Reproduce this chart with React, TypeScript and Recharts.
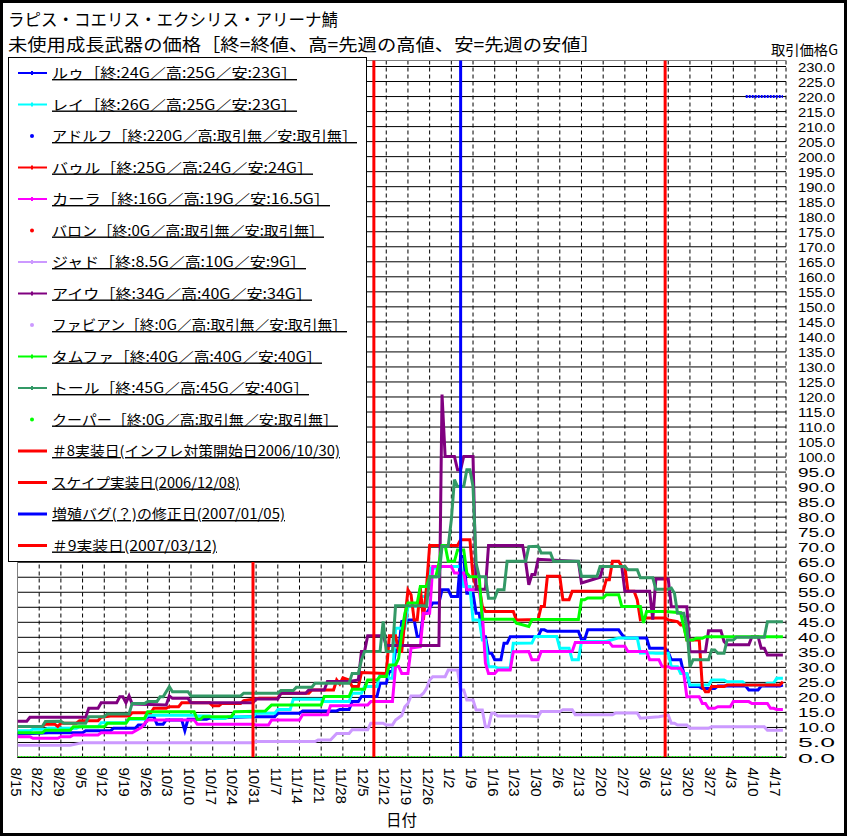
import { LineChart, Line, XAxis, YAxis, CartesianGrid, ReferenceLine } from "recharts";

// x = days since 8/15 (2006), y = price in G
const DATE_LABELS = [
  "8/15", "8/22", "8/29", "9/5", "9/12", "9/19", "9/26", "10/3", "10/10", "10/17", "10/24", "10/31",
  "11/7", "11/14", "11/21", "11/28", "12/5", "12/12", "12/19", "12/26", "1/2", "1/9", "1/16", "1/23",
  "1/30", "2/6", "2/13", "2/20", "2/27", "3/6", "3/13", "3/20", "3/27", "4/3", "4/10", "4/17",
];
const X_TICKS = DATE_LABELS.map((_, i) => i * 7);
const Y_TICKS = Array.from({ length: 47 }, (_, i) => i * 5);
const Y_MINOR = Array.from({ length: 231 }, (_, i) => i);

const LU = [[0,7.8],[5,8],[10,8.2],[21,8.2],[22,8.9],[30,8.9],[31,9.7],[38,9.7],[39,10.8],[41,10.8],[42,13.6],[44,13.6],[45,11.1],[47,11.1],[48,12.5],[53,12.5],[54,8.9],[55,12.7],[61,12.7],[62,13.1],[75,13.6],[83,13.6],[84,14.7],[91,14.7],[92,15.5],[103,15.5],[104,16],[107,16],[108,18.6],[110,18.6],[111,20.3],[116,20.3],[117,24.7],[119,24.7],[120,28.6],[121,28.6],[122,35.8],[123,35.8],[124,45.3],[126,45.8],[128,45.8],[129,40.3],[130,40.3],[131,48],[132,48],[134,51.4],[136,51.4],[137,55.8],[139,55.8],[140,53.6],[142,53.6],[143,66.9],[144,66.9],[145,54.7],[147,54.7],[148,48],[149,48],[150,40.2],[151,40.2],[152,34.7],[153,34.7],[154,32.5],[156,32.5],[157,38],[158,38],[159,40.2],[168,40.3],[169,42.5],[170,42.5],[171,42],[181,42],[182,39.2],[183,39.2],[184,42.5],[194,42.5],[195,41],[196,39.8],[203,39.8],[204,36.4],[209,36.4],[210,35],[211,32.5],[214,32.5],[215,28],[216,28],[217,23.6],[220,23.6],[221,23],[225,23],[226,23.8],[235,23.8],[236,22.5],[239,22.5],[240,23.8],[246,23.8],[247,24.1]];
const REI = [[0,8.9],[4,8.9],[5,9.4],[9,9.4],[10,9.7],[19,9.7],[20,10.2],[26,10.2],[27,11.6],[35,11.6],[36,12.7],[41,12.7],[42,14.1],[57,14.1],[58,13.8],[62,13.8],[63,13],[67,13],[68,13.6],[76,13.6],[77,14.7],[83,14.7],[84,16],[88,16],[89,19.4],[98,19.4],[99,18.6],[107,18.6],[108,21.4],[111,21.4],[112,23.6],[116,23.6],[117,28],[119,28],[120,26.4],[121,26.4],[122,43],[125,43],[126,50.3],[129,50.3],[130,53.6],[132,53.6],[133,63],[136,63],[137,63.6],[143,63.6],[144,56.9],[146,56.9],[147,45.8],[149,45.8],[150,39.1],[151,39.1],[152,30.2],[154,30.2],[155,29.7],[159,29.7],[160,38],[166,38.1],[167,40.3],[174,40.3],[175,36.4],[178,36.4],[179,32.5],[181,32.5],[182,38.6],[190,38.6],[194,39.8],[200,39.8],[201,34.8],[205,34.8],[206,34.7],[210,34.7],[211,30.2],[213,30.2],[214,28],[216,28],[217,24.1],[223,24.1],[224,25.8],[228,25.8],[229,25.2],[234,25.2],[235,24.1],[241,24.1],[242,24.7],[244,24.7],[245,26.4],[247,26.4]];
const ADOLF = [[235,220],[247,220]];
const BAUL = [[0,10.3],[8,10.3],[9,11.1],[12,11.1],[13,10.3],[14,11.4],[19,11.4],[20,12.2],[26,12.2],[27,13.4],[30,13.8],[36,13.8],[37,14.9],[43,14.9],[44,16.4],[48,16.4],[49,16.9],[52,16.9],[53,18.2],[62,18.2],[63,17.2],[65,17.2],[66,18],[72,18],[73,18.9],[78,19.7],[84,19.7],[85,21.4],[94,21.4],[95,22.5],[102,22.5],[103,25.8],[104,24.5],[105,26.5],[107,25.8],[108,23.6],[110,23.6],[111,28.3],[119,28],[120,40.5],[122,40.5],[123,35.3],[124,35.3],[125,45.8],[126,55.8],[127,54.2],[128,45.8],[129,45.8],[130,56.4],[131,45.8],[132,56.9],[133,70.6],[142,70.6],[143,72.5],[146,72.5],[147,60.2],[148,56.9],[149,56.9],[150,50.3],[151,48.6],[160,48.6],[161,45.8],[168,45.9],[169,50.3],[170,50.3],[171,60.3],[175,60.3],[176,52.5],[178,52.5],[179,55.3],[189,55.3],[190,59.2],[191,59.2],[192,65.3],[194,65.3],[195,63.6],[196,63.6],[197,55.3],[199,55.3],[200,52.5],[201,45.9],[203,46.4],[209,46.4],[210,45.8],[213,45.2],[214,44.1],[215,44.1],[216,39.1],[220,39.1],[221,23.6],[222,21.9],[223,21.9],[224,23.6],[228,23.6],[229,24.1],[246,24.1],[247,25.2]];
const KARA = [[0,6.9],[4,6.9],[5,6.4],[13,6.4],[14,6.9],[17,6.9],[18,7.5],[26,7.5],[27,8.2],[37,8.2],[40,10],[42,12.5],[57,12.5],[58,11.1],[76,11.1],[77,10.8],[81,10.8],[82,12.5],[91,12.5],[92,14.2],[100,14.2],[101,17.2],[107,17.2],[108,17.5],[113,17.5],[114,18.6],[121,18.6],[122,30.3],[123,30.3],[124,28],[126,28],[127,36.4],[130,36.9],[131,48],[133,48],[134,63.6],[140,63.6],[141,61.4],[144,61.4],[145,55.8],[149,55.8],[150,48],[151,31.4],[152,28],[154,28],[155,29.1],[159,29.1],[160,35.2],[165,35.3],[166,32.5],[168,32.5],[169,35.3],[179,35.3],[180,38.3],[191,38.3],[192,37],[196,37],[197,35.3],[203,35.3],[204,32.5],[207,32.5],[208,30.3],[210,30.2],[211,29.7],[214,29.7],[215,28],[216,20.2],[220,20.2],[221,18],[222,18],[223,16.4],[225,16.4],[226,16.9],[230,16.9],[231,18.6],[236,18.6],[237,18],[242,18],[243,16.4],[244,16.4],[245,16],[247,16]];
const BARON = [[0,0],[247,0]];
const JAD = [[0,4.1],[17,4.1],[20,4.7],[21,4.9],[76,4.9],[77,5.3],[96,5.3],[97,5.8],[101,5.8],[103,8],[107,8],[108,9.2],[113,9.2],[114,11.4],[118,11.4],[119,10.8],[121,10.8],[122,12.5],[124,14],[125,16.9],[126,18],[127,20.5],[130,20.5],[131,21.4],[132,23],[133,25.8],[134,26.9],[138,26.9],[139,29.1],[142,29.1],[143,22.5],[144,22.5],[145,19.1],[147,19.1],[148,15.8],[150,15.8],[151,10.2],[152,10.2],[153,14.7],[154,14.7],[155,13.8],[165,13.8],[168,13.6],[169,15.3],[175,15.3],[176,15.9],[179,15.9],[180,14.2],[192,14.2],[193,14.8],[200,14.8],[201,13.1],[207,13.6],[210,14.1],[211,11.4],[212,11.4],[213,10.8],[216,10.8],[217,9.7],[223,9.7],[224,10.2],[241,10.2],[242,9.1],[247,9.1]];
const AIU = [[0,12.1],[3,12.1],[4,13.4],[22,13.4],[23,16.4],[26,16.4],[27,18.2],[32,18.2],[33,20.2],[34,20.2],[35,18.2],[36,20.5],[37,17.8],[48,17.5],[49,20.5],[50,19.7],[55,19.7],[56,18.2],[76,18.2],[77,19.5],[84,19.5],[85,21.4],[93,21.4],[94,22.5],[99,22.5],[100,25.3],[107,25.3],[110,25.8],[111,35.3],[112,35.3],[113,40.5],[118,40.5],[119,37.3],[136,37.3],[137,120.8],[138,100.2],[141,100.2],[142,95.8],[143,95.8],[144,100.2],[147,100.2],[148,56],[151,56],[152,70.6],[163,70.6],[164,65],[165,57.5],[166,60.9],[167,60.9],[168,66],[181,65.3],[182,58.1],[188,60],[189,63.6],[195,63.6],[196,55.3],[204,55.3],[205,45.9],[206,59.4],[210,59.4],[211,50.2],[216,50.2],[217,35.2],[222,35.2],[223,42.2],[227,42.2],[228,38.6],[229,37.5],[236,37.5],[237,40.2],[239,40.2],[240,36.4],[241,36.4],[242,34.1],[247,34.1]];
const FABIAN = [[0,0],[247,0]];
const TAMFA = [[0,8.2],[8,8.2],[9,9.1],[17,9.1],[18,10.2],[28,10.2],[29,11.4],[35,11.4],[36,13],[41,13],[42,15.2],[57,15.2],[58,12.7],[59,12.7],[60,13.6],[69,13.6],[70,15.2],[80,15.5],[82,17.5],[98,17.5],[99,20.3],[107,20.3],[108,22.7],[112,22.7],[113,25.8],[116,25.8],[117,27],[119,27],[120,30.8],[122,30.8],[123,33],[124,41.4],[125,48],[126,51.4],[129,51.4],[130,56.9],[132,56.9],[133,60.2],[135,60.2],[136,64.7],[137,70.6],[138,70.6],[139,65.3],[141,65.3],[142,69.1],[144,69.1],[145,61.4],[146,60.2],[149,60.2],[150,46],[160,46],[161,44.7],[165,43.6],[166,45.9],[181,45.9],[182,52.5],[183,52.5],[184,53.1],[189,53.1],[190,54.2],[194,54.2],[195,50.3],[201,50.3],[202,44.8],[203,48.6],[209,48.6],[214,48.2],[215,43.6],[216,39.1],[218,39.1],[219,39.7],[221,39.7],[222,40.2],[247,40.2]];
const TOR = [[0,10.3],[8,10.3],[9,12],[14,12.1],[15,11.4],[22,11.4],[23,13.6],[28,13.6],[29,14.5],[36,14.5],[37,18],[41,18],[42,18.6],[45,18.6],[46,20.2],[47,20.2],[49,23.6],[50,21.9],[55,21.9],[56,20.5],[72,20.5],[73,21.4],[84,21.4],[85,22.3],[89,22.3],[90,23.4],[95,23.4],[96,24.7],[107,24.7],[108,28],[110,28],[111,32.5],[112,35.3],[117,35.3],[118,45.3],[119,35.3],[121,35.3],[122,50.5],[131,50.5],[132,50.3],[133,60.2],[136,60.2],[137,70.3],[139,70.3],[140,79.1],[141,92.5],[142,90.2],[144,90.2],[145,95.8],[146,95.8],[147,90.2],[148,64.7],[149,60.2],[151,60.2],[152,53],[154,53],[155,55.8],[157,55.8],[158,65.3],[164,65.3],[165,70.2],[168,70.3],[169,68.1],[172,68.1],[173,65.3],[181,65.3],[182,60.3],[187,60.3],[188,63.6],[196,63.6],[197,62.5],[200,62.5],[201,59.8],[205,59.8],[206,56],[210,56],[211,56.4],[212,54.7],[213,48],[215,48],[216,43.6],[217,30.2],[218,32.5],[223,32.5],[224,35.8],[225,35.8],[226,34.7],[228,34.7],[229,39.1],[231,39.1],[232,40],[241,40],[242,45.2],[247,45.2]];
const COOPER = [[0,0],[247,0]];

// event dates (days since 8/15)
const EVENT_DAYS = [76, 115, 143, 209];
const EVENT_COLORS = ["#FF0000", "#FF0000", "#0000FF", "#FF0000"];

const SERIES = [
  { name: "ルゥ［終:24G／高:25G／安:23G］", data: LU, color: "#0000FF", dotOnly: false, end: 297 },
  { name: "レイ［終:26G／高:25G／安:23G］", data: REI, color: "#00FFFF", dotOnly: false, end: 297 },
  { name: "アドルフ［終:220G／高:取引無／安:取引無］", data: ADOLF, color: "#0000FF", dotOnly: true, end: 357 },
  { name: "バゥル［終:25G／高:24G／安:24G］", data: BAUL, color: "#FF0000", dotOnly: false, end: 313 },
  { name: "カーラ［終:16G／高:19G／安:16.5G］", data: KARA, color: "#FF00FF", dotOnly: false, end: 330 },
  { name: "バロン［終:0G／高:取引無／安:取引無］", data: BARON, color: "#FF0000", dotOnly: true, end: 324 },
  { name: "ジャド［終:8.5G／高:10G／安:9G］", data: JAD, color: "#CC99FF", dotOnly: false, end: 306 },
  { name: "アイウ［終:34G／高:40G／安:34G］", data: AIU, color: "#800080", dotOnly: false, end: 312 },
  { name: "ファビアン［終:0G／高:取引無／安:取引無］", data: FABIAN, color: "#CC99FF", dotOnly: true, end: 347 },
  { name: "タムファ［終:40G／高:40G／安:40G］", data: TAMFA, color: "#00FF00", dotOnly: false, end: 322 },
  { name: "トール［終:45G／高:45G／安:40G］", data: TOR, color: "#339966", dotOnly: false, end: 309 },
  { name: "クーパー［終:0G／高:取引無／安:取引無］", data: COOPER, color: "#00FF00", dotOnly: true, end: 338 },
];

const EVENT_LEGEND = [
  { name: "＃8実装日(インフレ対策開始日2006/10/30)", end: 340 },
  { name: "スケイプ実装日(2006/12/08)", end: 240 },
  { name: "増殖バグ(？)の修正日(2007/01/05)", end: 285 },
  { name: "＃9実装日(2007/03/12)", end: 217 },
];

const JP = "'Noto Sans CJK JP', sans-serif";
const NUM = "'Liberation Sans', Arial, sans-serif";

const toPts = (s: number[][]) => s.map(([d, v]) => ({ d, v }));

function DateTick({ x, y, payload }: any) {
  return (
    <g transform={`translate(${x},${y}) rotate(90)`}>
      <text x={0} y={0} dy={7} textAnchor="start" fontSize={15} fontFamily={NUM} fill="#000">
        {DATE_LABELS[Math.round(payload.value / 7)]}
      </text>
    </g>
  );
}

function PriceTick({ x, y, payload }: any) {
  return (
    <text x={x} y={y} dy={5} textAnchor="start" fontSize={13} fontFamily={NUM} fill="#000"
      textLength={37} lengthAdjust="spacingAndGlyphs">
      {payload.value.toFixed(1)}
    </text>
  );
}

function Overlay() {
  const rowY = (i: number) => 73 + i * 31.5;
  return (
    <svg width={850} height={840} style={{ position: "absolute", left: 0, top: 0, pointerEvents: "none" }}>
      <text x={8} y={26} fontSize={17} fontFamily={JP} textLength={330} lengthAdjust="spacingAndGlyphs">
        ラピス・コエリス・エクシリス・アリーナ鯖
      </text>
      <text x={8} y={51} fontSize={17} fontFamily={JP} textLength={592} lengthAdjust="spacingAndGlyphs">
        未使用成長武器の価格［終=終値、高=先週の高値、安=先週の安値］
      </text>
      <text x={771} y={55} fontSize={14} fontFamily={JP} textLength={67} lengthAdjust="spacingAndGlyphs">
        取引価格G
      </text>
      <text x={386} y={826} fontSize={16} fontFamily={JP} textLength={31} lengthAdjust="spacingAndGlyphs">
        日付
      </text>

      <rect x={8.5} y={57.5} width={358} height={504} fill="#fff" stroke="#000" strokeWidth={1} />
      {SERIES.map((s, i) => {
        const y = rowY(i);
        return (
          <g key={s.name}>
            {s.dotOnly ? (
              <circle cx={32} cy={y} r={2} fill={s.color} />
            ) : (
              <>
                <line x1={18} x2={47} y1={y} y2={y} stroke={s.color} strokeWidth={2} />
                <line x1={32} x2={32} y1={y - 2} y2={y + 2} stroke={s.color} strokeWidth={2} />
              </>
            )}
            <text x={52} y={y + 5} fontSize={14} fontFamily={JP} textDecoration="underline"
              textLength={s.end - 52} lengthAdjust="spacingAndGlyphs">
              {s.name}
            </text>
          </g>
        );
      })}
      {EVENT_LEGEND.map((e, i) => {
        const y = rowY(SERIES.length + i);
        return (
          <g key={e.name}>
            <line x1={18} x2={47} y1={y} y2={y} stroke={EVENT_COLORS[i]} strokeWidth={3} />
            <text x={52} y={y + 5} fontSize={14} fontFamily={JP} textDecoration="underline"
              textLength={e.end - 52} lengthAdjust="spacingAndGlyphs">
              {e.name}
            </text>
          </g>
        );
      })}
    </svg>
  );
}

export default function App() {
  return (
    <div style={{ position: "relative", width: 850, height: 840, background: "#fff" }}>
      <style>{"body{margin:0}"}</style>
      <div style={{ position: "absolute", left: 0, top: 0, width: 847, height: 836, border: "3px solid #000", boxSizing: "border-box" }} />
      <LineChart width={850} height={840} margin={{ top: 60.5, right: 4, bottom: 22.5, left: 17.5 }}>
        <CartesianGrid vertical={false} stroke="#000" strokeWidth={1} />
        <CartesianGrid horizontal={false} stroke="#000" strokeDasharray="4 3" strokeWidth={1} />
        <XAxis type="number" dataKey="d" domain={[0, 248]} ticks={X_TICKS} interval={0}
          height={60} tickLine={false} tickSize={0} tickMargin={10} axisLine={{ stroke: "#000" }}
          tick={<DateTick />} allowDataOverflow />
        <YAxis yAxisId="minor" orientation="right" mirror width={0} domain={[0, 232]} ticks={Y_MINOR}
          interval={0} tickSize={4} tickLine={{ stroke: "#000" }} axisLine={{ stroke: "#000" }}
          tick={() => <g />} allowDataOverflow />
        <YAxis orientation="right" width={60} domain={[0, 232]} ticks={Y_TICKS} interval={0}
          tickLine={false} tickSize={0} tickMargin={12} axisLine={false} tick={<PriceTick />} allowDataOverflow />
        <ReferenceLine x={0} stroke="#808080" />
        <ReferenceLine y={232} stroke="#808080" />
        {SERIES.map((s) => (
          <Line key={s.name} name={s.name} data={toPts(s.data)} dataKey="v" type="linear"
            stroke={s.color} strokeWidth={3} strokeDasharray={s.dotOnly ? "2 1" : undefined}
            dot={false} isAnimationActive={false} />
        ))}
        {EVENT_DAYS.map((d, i) => (
          <ReferenceLine key={d} x={d} stroke={EVENT_COLORS[i]} strokeWidth={3} />
        ))}
      </LineChart>
      <Overlay />
    </div>
  );
}
